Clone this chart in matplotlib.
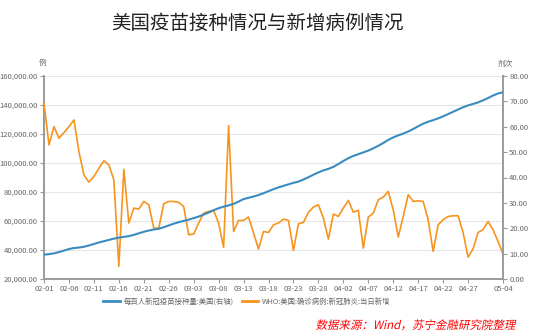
import datetime as dt
import matplotlib
matplotlib.use("Agg")
from matplotlib import pyplot as plt
from matplotlib.ticker import FuncFormatter, MultipleLocator
from matplotlib.textpath import TextPath
from matplotlib.patches import PathPatch
from matplotlib.font_manager import FontProperties
from matplotlib.transforms import Affine2D

plt.rcParams["font.family"] = ["Noto Sans CJK SC", "DejaVu Sans"]

# 2021-02-01 .. 2021-05-04, one value per day
start = dt.date(2021, 2, 1)
n_days = 93
dates = [(start + dt.timedelta(days=i)).strftime("%m-%d") for i in range(n_days)]

# doses per hundred people, USA (right axis)
doses_per_100 = [
    9.6, 9.8, 10.1, 10.6, 11.2, 11.8,
    12.2, 12.4, 12.7, 13.2, 13.8,
    14.4, 14.9, 15.4, 15.9, 16.3,
    16.6, 16.9, 17.4, 18.0, 18.6,
    19.1, 19.5, 19.8, 20.4, 21.1,
    21.8, 22.4, 22.9, 23.4, 24.0,
    24.6, 25.4, 26.2, 27.1, 27.9,
    28.5, 29.0, 29.6, 30.5, 31.5,
    32.0, 32.5, 33.1, 33.8, 34.6,
    35.4, 36.1, 36.7, 37.3, 37.9,
    38.4, 39.2, 40.1, 41.1, 42.0,
    42.8, 43.4, 44.2, 45.3, 46.5,
    47.6, 48.5, 49.2, 49.9, 50.6,
    51.5, 52.5, 53.6, 54.8, 55.8,
    56.6, 57.3, 58.1, 59.1, 60.2,
    61.2, 62.0, 62.6, 63.3, 64.1,
    65.0, 65.9, 66.8, 67.7, 68.4,
    69.0, 69.6, 70.4, 71.3, 72.3, 73.1, 73.6,
]

# WHO daily new confirmed cases, USA (left axis)
new_cases = [
    141200, 112500, 125100, 117100, 121000, 125000, 129700,
    107900, 91800, 86800, 90700, 96400, 101500, 98700,
    88400, 28700, 95700, 58600, 68900, 68200, 73500,
    71200, 55100, 55100, 71900, 73500, 73500, 72800,
    70000, 50500, 51000, 58600, 65400, 66600, 67300,
    58600, 41800, 125800, 52800, 60400, 60400, 62700,
    51700, 40700, 52800, 52100, 57400, 58600, 61300,
    60400, 39700, 58100, 59000, 65900, 69600, 71200,
    62000, 47500, 64800, 63100, 68900, 74200, 66100,
    67300, 41300, 62700, 65400, 74600, 76500, 80400,
    67700, 48900, 63100, 78100, 73500, 73900, 73500,
    60900, 39000, 57400, 60900, 63100, 63600, 63600,
    52100, 35100, 40700, 52100, 54000, 59700, 54000,
    45900, 37200,
]

tick_pos = list(range(0, n_days - 3, 5)) + [n_days - 1]

blue = "#3a8bc0"
orange = "#f7941d"
axis_gray = "#9a9a9a"
label_gray = "#666666"

fig = plt.figure(figsize=(5.37, 3.36), dpi=100)
ax = fig.add_axes([44 / 537, 1 - 279 / 336, 459 / 537, 203 / 336])
ax2 = ax.twinx()

x = list(range(n_days))
ax.plot(x, new_cases, color=orange, lw=1.2, zorder=3)
ax2.plot(x, doses_per_100, color=blue, lw=1.5, zorder=3)

ax.set_xlim(0, n_days - 1)
ax.set_ylim(20000, 160000)
ax.yaxis.set_major_locator(MultipleLocator(20000))
ax.yaxis.set_major_formatter(FuncFormatter(lambda v, p: f"{v:,.2f}"))
ax2.set_ylim(0, 80)
ax2.yaxis.set_major_locator(MultipleLocator(10))
ax2.yaxis.set_major_formatter(FuncFormatter(lambda v, p: f"{v:.2f}"))

ax.set_xticks(tick_pos)
ax.set_xticklabels([dates[i] for i in tick_pos])

ax.grid(axis="y", color="#e6e6e6", lw=0.8)
ax.set_axisbelow(True)

for a in (ax, ax2):
    a.spines["top"].set_visible(False)
    a.tick_params(labelsize=5.5, labelcolor=label_gray, color=axis_gray,
                  length=3, width=0.8, pad=1.5)
ax.spines["right"].set_visible(False)
ax2.spines["left"].set_visible(False)
ax2.spines["bottom"].set_visible(False)
for sp in (ax.spines["left"], ax.spines["bottom"], ax2.spines["right"]):
    sp.set_color(axis_gray)
    sp.set_linewidth(1.4)

fig.text(257 / 537, 1 - 23 / 336, "美国疫苗接种情况与新增病例情况",
         ha="center", va="center", fontsize=14, color="#222222")
fig.text(43 / 537, 1 - 63 / 336, "例", ha="center", va="center",
         fontsize=5.5, color=label_gray)
fig.text(505 / 537, 1 - 64 / 336, "剂次", ha="center", va="center",
         fontsize=5.5, color=label_gray)

h1, = ax.plot([], [], color=blue, lw=2)
h2, = ax.plot([], [], color=orange, lw=2)
fig.legend([h1, h2], ["每百人新冠疫苗接种量:美国(右轴)", "WHO:美国:确诊病例:新冠肺炎:当日新增"],
           loc="center", bbox_to_anchor=(247 / 537, 1 - 302 / 336), ncol=2,
           frameon=False, fontsize=5.3, handlelength=2.2, columnspacing=1.2,
           labelcolor=label_gray, handletextpad=0.5)

# source note in slanted (italic-like) red text, drawn as a skewed path
src = "数据来源：Wind，苏宁金融研究院整理"
tp = TextPath((0, 0), src, size=11.5, prop=FontProperties(family="Noto Sans CJK SC"))
ext = tp.get_extents()
x_right, y_base = 517, 336 - 329
trans = Affine2D().skew_deg(12, 0).translate(x_right - ext.x1 - 2, y_base)
fig.add_artist(PathPatch(tp, transform=trans, color="#ff0000", lw=0))

fig.savefig("out.png", dpi=100)
